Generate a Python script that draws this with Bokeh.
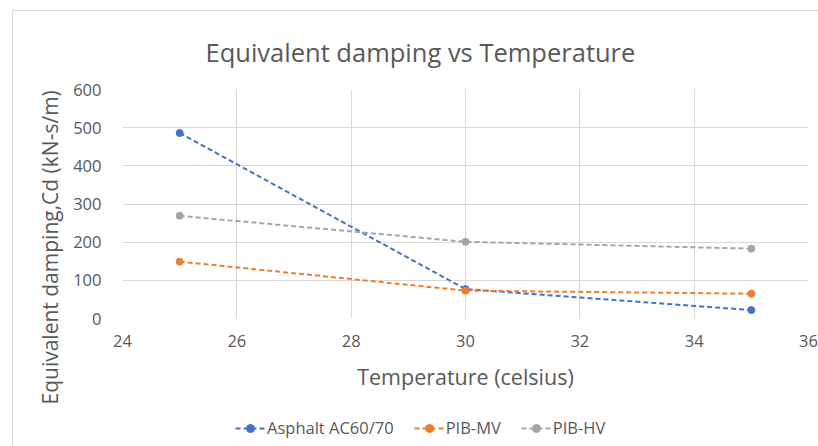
from bokeh.plotting import figure
from bokeh.layouts import column
from bokeh.models import Legend, LegendItem, FixedTicker, Range1d, Title
from bokeh.embed import file_html
from bokeh.resources import INLINE

temperature = [25, 30, 35]
asphalt = [486, 77, 22]
pib_mv = [149, 73, 65]
pib_hv = [269, 201, 183]
series_names = ["Asphalt AC60/70", "PIB-MV", "PIB-HV"]
x_ticks = [24, 26, 28, 30, 32, 34, 36]
y_ticks = [0, 100, 200, 300, 400, 500, 600]

colors = ["#4472C4", "#ED7D31", "#A5A5A5"]
txt = "#595959"
FONT = "Open Sans"

fig = figure(width=806, height=402, output_backend="svg", toolbar_location=None,
             x_range=Range1d(24, 36), y_range=Range1d(0, 600),
             min_border_left=109, min_border_right=11, min_border_top=77, min_border_bottom=95)

fig.title.text = "Equivalent damping vs Temperature"
fig.title.align = "left"
fig.title.text_font = FONT
fig.title.text_font_size = "25.5px"
fig.title.text_font_style = "normal"
fig.title.text_color = txt
fig.title.offset = 83
fig.title.standoff = 42

fig.outline_line_color = None
fig.background_fill_color = "white"
fig.border_fill_color = "white"

for ax in (fig.xaxis[0], fig.yaxis[0]):
    ax.axis_line_color = None
    ax.major_tick_line_color = None
    ax.minor_tick_line_color = None
    ax.major_label_text_color = txt
    ax.major_label_text_font = FONT
    ax.major_label_text_font_size = "16.5px"
    ax.axis_label_text_color = txt
    ax.axis_label_text_font = FONT
    ax.axis_label_text_font_size = "21.5px"
    ax.axis_label_text_font_style = "normal"

fig.xaxis.ticker = FixedTicker(ticks=x_ticks)
fig.yaxis.ticker = FixedTicker(ticks=y_ticks)
fig.xaxis.axis_label = "Temperature (celsius)"
fig.xaxis.major_label_standoff = 10
fig.yaxis.major_label_standoff = 15
fig.xaxis.axis_label_standoff = 12

ylab = Title(text="Equivalent damping,Cd (kN-s/m)", align="left", offset=-86,
             text_font=FONT, text_font_size="21px", text_font_style="normal",
             text_color=txt, standoff=14)
fig.add_layout(ylab, "left")

fig.xgrid.grid_line_color = "#d9d9d9"
fig.ygrid.grid_line_color = "#d9d9d9"
fig.xgrid.ticker = FixedTicker(ticks=x_ticks)
fig.ygrid.ticker = FixedTicker(ticks=y_ticks)

for ys, c in zip([asphalt, pib_mv, pib_hv], colors):
    fig.line(temperature, ys, line_color=c, line_width=2, line_dash="5 3")
    fig.scatter(temperature, ys, size=7, fill_color=c, line_color=c)

# legend strip below the chart (legend-only renderers hold no visible data)
lp = figure(width=806, height=34, output_backend="svg", toolbar_location=None,
            x_axis_type=None, y_axis_type=None, x_range=Range1d(0, 1), y_range=Range1d(0, 1),
            min_border=0)
lp.outline_line_color = None
lp.xgrid.grid_line_color = None
lp.ygrid.grid_line_color = None
lp.background_fill_color = "white"
lp.border_fill_color = "white"

nan = float("nan")
items = []
for name, c in zip(series_names, colors):
    l = lp.line(x=[nan], y=[nan], line_color=c, line_width=2, line_dash="5 3")
    s = lp.scatter(x=[nan], y=[nan], size=7, fill_color=c, line_color=c)
    items.append(LegendItem(label=name, renderers=[l, s]))

legend = Legend(items=items, orientation="horizontal", location=(113, 8),
                label_text_font=FONT, label_text_font_size="16.5px", label_text_color=txt,
                border_line_color=None, background_fill_alpha=0, glyph_width=30,
                spacing=20, label_standoff=2, padding=0, margin=0)
lp.add_layout(legend, "center")

p = column(fig, lp, spacing=0, margin=(10, 0, 0, 12),
           styles={"border-left": "1px solid #d9d9d9", "border-top": "1px solid #d9d9d9"})

open("out.html", "w").write(file_html(p, INLINE))
